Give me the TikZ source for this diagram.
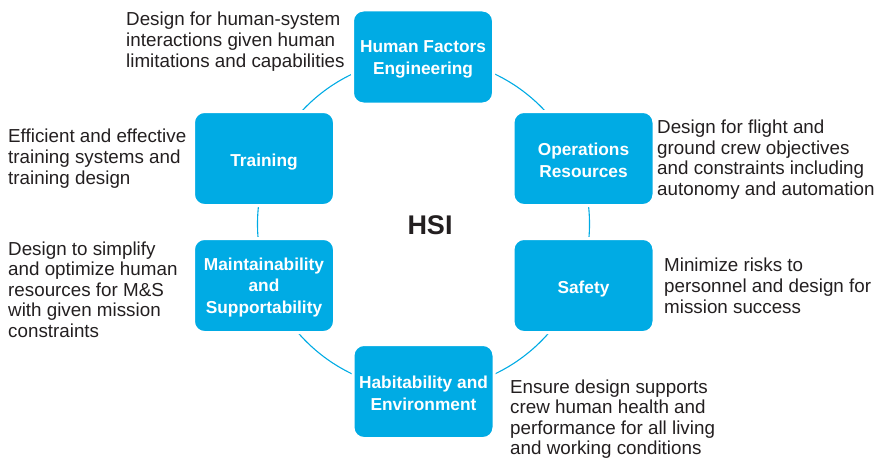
\documentclass[tikz,border=0pt]{standalone}
\usepackage{fontspec}
\setmainfont{Liberation Sans}
\definecolor{hsiblue}{HTML}{00ABE4}
\definecolor{hsitext}{HTML}{231F20}
\newcommand{\boxtop}{\rule{0pt}{19.5pt}}
\newcommand{\boxtopm}{\rule{0pt}{16.5pt}}
\begin{document}
\begin{tikzpicture}[x=1pt,y=-1pt,
 box/.style={rectangle, rounded corners=11pt, fill=hsiblue, draw=white, line width=3pt,
   minimum width=141pt, minimum height=94pt, text=white, inner sep=0pt,
   font=\fontsize{17.3}{21.5}\selectfont\bfseries, align=center},
 desc/.style={anchor=base west, inner sep=0pt, align=left, text=hsitext,
   font=\fontsize{18.8}{20.6}\selectfont},
 ring/.style={draw=hsiblue, line width=1.1pt}]
\useasboundingbox (0,0) rectangle (880,460);
\coordinate (c) at (423.5,224);
\draw[ring] (c) circle[radius=166];
\node[box] (hfe) at (423,57) {\boxtopm Human Factors\\Engineering};
\node[box] (ops) at (583.5,158.5) {\boxtopm Operations\\Resources};
\node[box] (saf) at (583.5,285.5) {\boxtop Safety};
\node[box] (hab) at (423.5,391.5) {\boxtopm Habitability and\\Environment};
\node[box] (ms) at (264,285.5) {\boxtopm Maintainability\\and\\Supportability};
\node[box] (tr) at (264,158.5) {\boxtop Training};
\node[font=\fontsize{27}{27}\selectfont\bfseries, text=hsitext, inner sep=0pt] (hsi) at (430,225.5) {HSI};
\node[desc] (dhfe) at (126,67) {Design for human-system\\interactions given human\\limitations and capabilities};
\node[desc] (dtr) at (8,184) {Efficient and effective\\training systems and\\training design};
\node[desc] (dms) at (8,337.5) {Design to simplify\\and optimize human\\resources for M\&S\\with given mission\\constraints};
\node[desc] (dops) at (657,195.3) {Design for flight and\\ground crew objectives\\and constraints including\\autonomy and automation};
\node[desc] (dsaf) at (664,313) {Minimize risks to\\personnel and design for\\mission success};
\node[desc] (dhab) at (510,454.8) {Ensure design supports\\crew human health and\\performance for all living\\and working conditions};
\end{tikzpicture}
\end{document}
